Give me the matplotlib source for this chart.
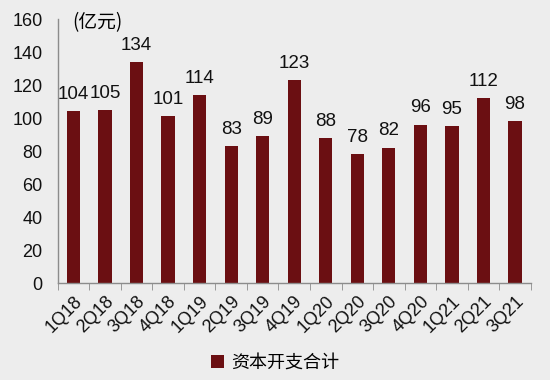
import matplotlib
matplotlib.use("Agg")
import matplotlib.pyplot as plt
from matplotlib.patches import Patch
import numpy as np

plt.rcParams['font.family'] = ['Liberation Sans', 'Noto Sans CJK SC', 'DejaVu Sans']

categories = ['1Q18', '2Q18', '3Q18', '4Q18', '1Q19', '2Q19', '3Q19', '4Q19',
              '1Q20', '2Q20', '3Q20', '4Q20', '1Q21', '2Q21', '3Q21']
values = [104, 105, 134, 101, 114, 83, 89, 123, 88, 78, 82, 96, 95, 112, 98]
series_name = '资本开支合计'
unit_label = '(亿元)'

bg = '#EDEDED'
bar_color = '#6B0F12'
axis_color = '#8C8C8C'

fig = plt.figure(figsize=(5.5, 3.8), dpi=100, facecolor=bg)
ax = fig.add_axes([0.105, 0.255, 0.86, 0.695])
ax.set_facecolor(bg)

x = np.arange(len(categories))
ax.bar(x, values, width=0.42, color=bar_color)
for xi, v in zip(x, values):
    ax.text(xi, v + 5, str(v), ha='center', va='bottom', fontsize=13.5, color='#111111')

ax.set_xlim(-0.5, len(categories) - 0.5)
ax.set_ylim(0, 160)
ax.set_yticks(range(0, 161, 20))
ax.tick_params(axis='y', length=0, labelsize=13, pad=11, colors='#111111')
ax.set_xticks(x)
ax.set_xticklabels(categories, rotation=45, ha='right', rotation_mode='anchor', fontsize=13)
ax.tick_params(axis='x', which='major', length=0, pad=7, colors='#111111')
ax.set_xticks(np.arange(-0.5, len(categories), 1), minor=True)
ax.tick_params(axis='x', which='minor', length=5, color=axis_color)

for s in ['top', 'right']:
    ax.spines[s].set_visible(False)
for s in ['left', 'bottom']:
    ax.spines[s].set_color(axis_color)
    ax.spines[s].set_linewidth(1)

ax.text(0.03, 0.985, unit_label, transform=ax.transAxes, fontsize=13.5, va='center', ha='left',
        family=['Noto Sans CJK SC', 'DejaVu Sans'])

handle = Patch(facecolor=bar_color, edgecolor='none')
fig.legend([handle], [series_name], loc='center', bbox_to_anchor=(0.5, 0.045),
           frameon=False, prop={'family': ['Noto Sans CJK SC', 'DejaVu Sans'], 'size': 13},
           handlelength=0.7, handleheight=0.7, handletextpad=0.4)

fig.savefig('out.png', dpi=100, facecolor=bg)
